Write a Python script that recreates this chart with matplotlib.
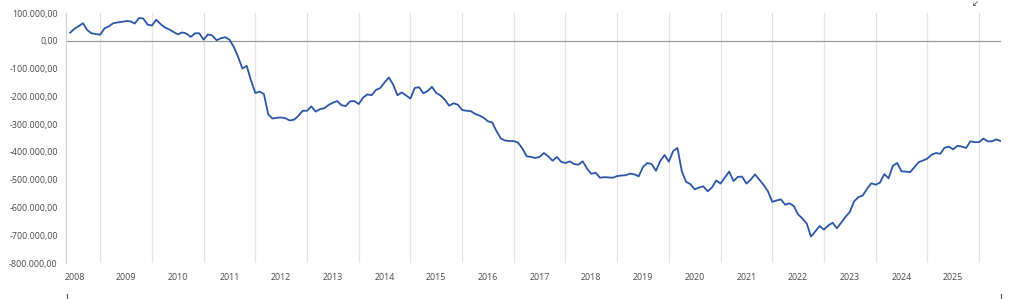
import matplotlib
matplotlib.use("Agg")
import matplotlib.pyplot as plt
from matplotlib.lines import Line2D
from matplotlib.ticker import FuncFormatter

# monthly values (thousands), Jan 2008 .. Jan 2026
values_k = [
    29, 43, 53, 63, 38, 27, 24, 22, 45, 52, 63, 66,          # 2008
    68, 71, 70, 62, 82, 80, 58, 55, 76, 60, 48, 41,          # 2009
    32, 23, 30, 26, 14, 27, 27, 4, 23, 19, 2, 9,             # 2010
    13, 4, -22, -58, -100, -90, -143, -188, -183, -192, -265, -280,   # 2011
    -277, -276, -279, -287, -284, -270, -252, -252, -236, -255, -246, -243,  # 2012
    -231, -223, -217, -232, -235, -218, -217, -228, -205, -193, -196, -177,  # 2013
    -170, -150, -132, -158, -196, -186, -197, -208, -170, -167, -189, -181,  # 2014
    -166, -188, -197, -212, -234, -225, -230, -249, -252, -253, -263, -269,  # 2015
    -277, -290, -294, -326, -352, -359, -361, -361, -367, -388, -416, -418,  # 2016
    -422, -418, -404, -416, -432, -418, -436, -440, -434, -444, -446, -434,  # 2017
    -460, -479, -475, -493, -491, -492, -493, -487, -485, -484, -478, -481,  # 2018
    -488, -454, -440, -444, -468, -433, -411, -435, -397, -386, -470, -508,  # 2019
    -516, -535, -528, -524, -542, -528, -503, -514, -492, -471, -505, -490,  # 2020
    -489, -514, -500, -481, -500, -519, -542, -580, -575, -571, -590, -585,  # 2021
    -595, -625, -640, -658, -705, -686, -667, -680, -665, -655, -675, -655,  # 2022
    -634, -616, -578, -563, -557, -533, -513, -518, -511, -480, -495, -450,  # 2023
    -440, -470, -471, -473, -455, -437, -431, -424, -410, -404, -407, -385,  # 2024
    -381, -391, -378, -381, -386, -362, -365, -365, -352, -362, -362, -355,  # 2025
    -361,                                                    # 2026
]
values = [v * 1000 for v in values_k]
months = list(range(len(values)))

years = list(range(2008, 2026))
year_label_pos = [12 * k + 1 for k in range(len(years))]
grid_pos = [12 * k + 7 for k in range(len(years))]

y_ticks = list(range(-800000, 100001, 100000))


def de_fmt(v, _pos=None):
    s = f"{abs(v):,.2f}".replace(",", "X").replace(".", ",").replace("X", ".")
    return ("-" if v < 0 else "") + s


plt.rcParams["font.family"] = ["Open Sans", "DejaVu Sans"]

fig = plt.figure(figsize=(10.24, 2.99), dpi=100)
fig.patch.set_facecolor("white")
ax = fig.add_axes([66 / 1024, 1 - 263 / 299, (1001 - 66) / 1024, 250 / 299])

for g in grid_pos:
    ax.axvline(g, color="#e3e3e3", linewidth=0.9, zorder=1)
ax.axhline(0, color="#9a9a9a", linewidth=0.9, zorder=2)

ax.plot(months, values, color="#2c56a8", linewidth=1.3, zorder=3)

ax.set_xlim(-0.95, months[-1] + 0.1)
ax.set_ylim(-800000, 100000)
ax.set_yticks(y_ticks)
ax.yaxis.set_major_formatter(FuncFormatter(de_fmt))
ax.set_xticks(year_label_pos)
ax.set_xticklabels([str(y) for y in years])
ax.tick_params(axis="both", length=0, labelsize=6.4, colors="#4a4a4a")
ax.tick_params(axis="y", pad=6)
ax.tick_params(axis="x", pad=7)

for name in ("top", "right", "bottom"):
    ax.spines[name].set_visible(False)
ax.spines["left"].set_color("#d0d0d0")
ax.spines["left"].set_linewidth(0.9)

# small edge markers under the chart and the expand icon
for xp in (66.5, 1001):
    fig.add_artist(Line2D([xp / 1024, xp / 1024], [0, 5 / 299],
                          color="#555555", linewidth=0.8))
fig.text(975 / 1024, 1 - 4 / 299, "\u2199", fontsize=6, color="#333333",
         ha="center", va="center", family=["DejaVu Sans"])

fig.savefig("out.png", facecolor=fig.get_facecolor())
plt.close(fig)
